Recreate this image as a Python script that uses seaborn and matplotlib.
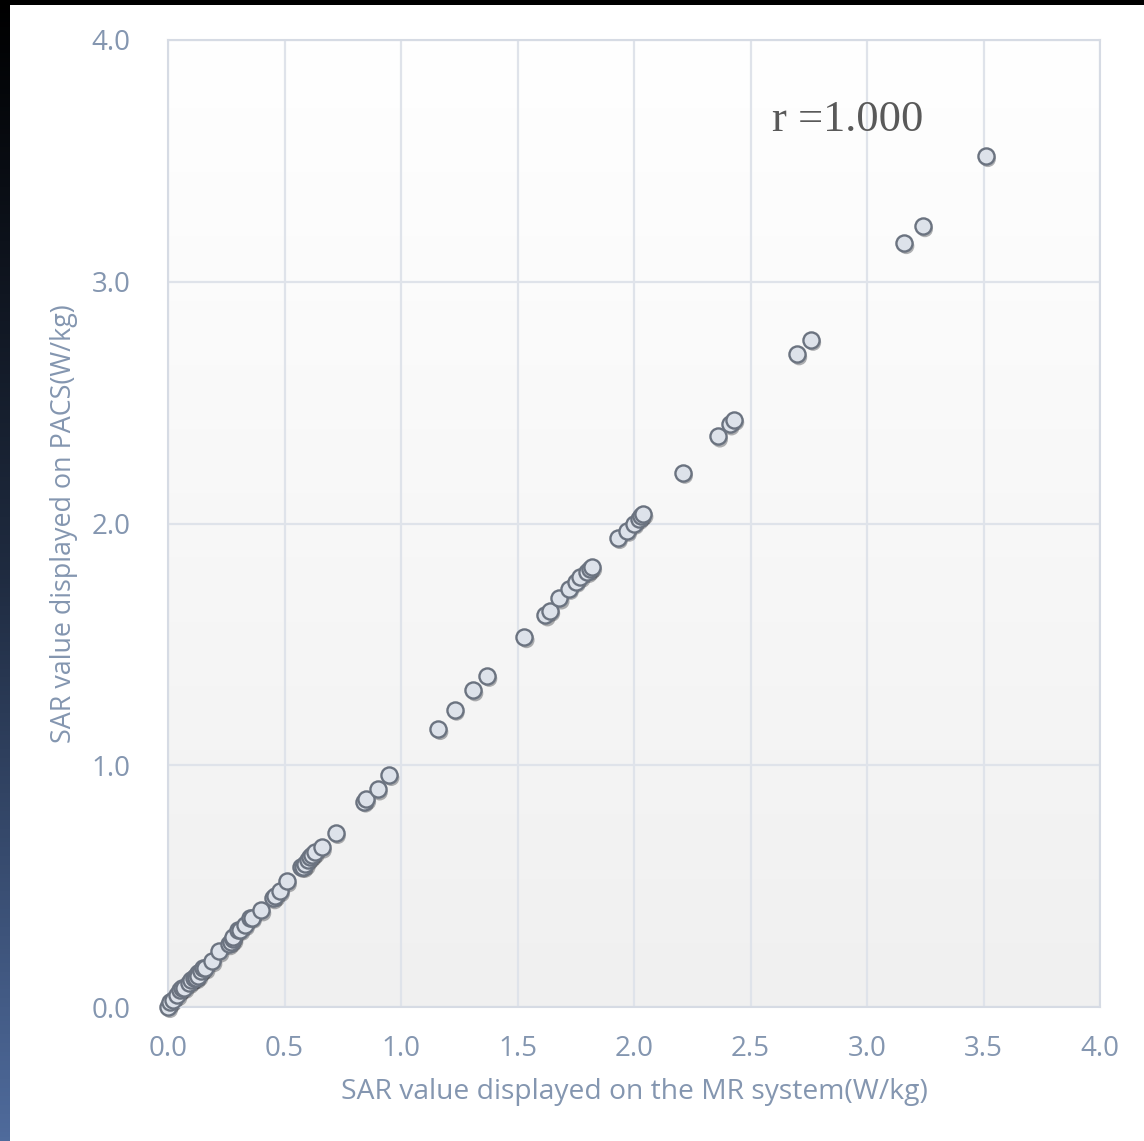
import numpy as np
import pandas as pd
import matplotlib
matplotlib.use("Agg")
import matplotlib.pyplot as plt
import matplotlib.transforms as mtransforms
from matplotlib.colors import LinearSegmentedColormap
import seaborn as sns

# SAR values: MR console vs. PACS (W/kg)
sar_mr = [0.00, 0.01, 0.02, 0.04, 0.05, 0.06, 0.07, 0.09, 0.10, 0.11, 0.12, 0.12,
          0.13, 0.13, 0.14, 0.15, 0.16, 0.19, 0.22, 0.26, 0.27, 0.28, 0.28, 0.30,
          0.31, 0.33, 0.35, 0.36, 0.40, 0.45, 0.46, 0.48, 0.51, 0.57, 0.58, 0.59,
          0.60, 0.61, 0.62, 0.63, 0.66, 0.72, 0.84, 0.85, 0.90, 0.95, 1.16, 1.23,
          1.31, 1.37, 1.53, 1.62, 1.64, 1.68, 1.72, 1.75, 1.77, 1.80, 1.81, 1.82,
          1.93, 1.97, 2.00, 2.02, 2.03, 2.04, 2.21, 2.36, 2.41, 2.43, 2.70, 2.76,
          3.16, 3.24, 3.51]
sar_pacs = [0.00, 0.02, 0.03, 0.05, 0.07, 0.08, 0.08, 0.10, 0.11, 0.12, 0.13, 0.12,
            0.14, 0.13, 0.15, 0.16, 0.16, 0.19, 0.23, 0.26, 0.27, 0.28, 0.29, 0.32,
            0.32, 0.34, 0.37, 0.37, 0.40, 0.45, 0.46, 0.48, 0.52, 0.58, 0.58, 0.59,
            0.61, 0.62, 0.63, 0.64, 0.66, 0.72, 0.85, 0.86, 0.90, 0.96, 1.15, 1.23,
            1.31, 1.37, 1.53, 1.62, 1.64, 1.69, 1.73, 1.76, 1.78, 1.80, 1.81, 1.82,
            1.94, 1.97, 2.00, 2.02, 2.03, 2.04, 2.21, 2.36, 2.41, 2.43, 2.70, 2.76,
            3.16, 3.23, 3.52]
r_text = "r =1.000"
x_ticks = [0.0, 0.5, 1.0, 1.5, 2.0, 2.5, 3.0, 3.5, 4.0]
y_ticks = [0.0, 1.0, 2.0, 3.0, 4.0]

df = pd.DataFrame({"mr": sar_mr, "pacs": sar_pacs})

sns.set_theme(style="white")
plt.rcParams["font.family"] = ["Open Sans", "DejaVu Sans"]

W, H = 1144, 1141
fig = plt.figure(figsize=(W / 100, H / 100), dpi=100)
fig.patch.set_facecolor("white")

# dark decorative strips at top and left edge
strip = fig.add_axes([0, 0, 10 / W, 1])
grad = np.linspace(0, 1, 256).reshape(-1, 1)
cmap_strip = LinearSegmentedColormap.from_list("strip", ["#000000", "#1f2b40", "#4f6b9c"])
strip.imshow(grad, cmap=cmap_strip, aspect="auto", extent=[0, 1, 0, 1], origin="upper")
strip.axis("off")
top = fig.add_axes([0, 1 - 5 / H, 1, 5 / H])
top.axis("off")
top.add_patch(plt.Rectangle((0, 0), 1, 1, color="black", transform=top.transAxes))

ax = fig.add_axes([168 / W, 1 - 1007 / H, (1100 - 168) / W, (1007 - 40) / H])

# soft vertical gradient behind the plot: white at top, light grey at bottom
bg = LinearSegmentedColormap.from_list("bg", ["#ffffff", "#f0f0f0"])
ax.imshow(np.linspace(0, 1, 256).reshape(-1, 1), cmap=bg, aspect="auto",
          extent=[0, 4, 0, 4], origin="upper", zorder=0)

ax.set_xlim(0, 4)
ax.set_ylim(0, 4)
ax.set_xticks(x_ticks)
ax.set_yticks(y_ticks)
ax.set_xticklabels([f"{v:.1f}" for v in x_ticks])
ax.set_yticklabels([f"{v:.1f}" for v in y_ticks])
ax.grid(True, color="#dfe3ea", linewidth=1.6, zorder=1)
ax.set_axisbelow(True)
for s in ax.spines.values():
    s.set_color("#d6dbe4")
    s.set_linewidth(1.5)

tick_col = "#8496b0"
ax.tick_params(axis="both", length=0, labelsize=20, colors=tick_col)
ax.tick_params(axis="x", pad=20)
ax.tick_params(axis="y", pad=27)

# drop shadow under the markers
shadow = mtransforms.offset_copy(ax.transData, fig=fig, x=2, y=-3, units="dots")
sns.scatterplot(data=df, x="mr", y="pacs", ax=ax, s=135, color="#1a1d24",
                edgecolor="none", alpha=0.34, transform=shadow, zorder=2,
                legend=False, clip_on=False)
sns.scatterplot(data=df, x="mr", y="pacs", ax=ax, s=135, color="#dde2ea",
                edgecolor="#6b7380", linewidth=1.7, zorder=3, legend=False,
                clip_on=False)

ax.set_xlabel("SAR value displayed on the MR system(W/kg)", fontsize=20.3,
              color=tick_col, labelpad=11)
ax.set_ylabel("SAR value displayed on PACS(W/kg)", fontsize=19.4,
              color=tick_col, labelpad=10)

ax.text(0.648, 0.906, r_text, transform=ax.transAxes, fontsize=32,
        family=["Liberation Serif", "DejaVu Serif"], color="#595959",
        ha="left", va="baseline", zorder=4)

fig.savefig("out.png", dpi=100, facecolor="white")
